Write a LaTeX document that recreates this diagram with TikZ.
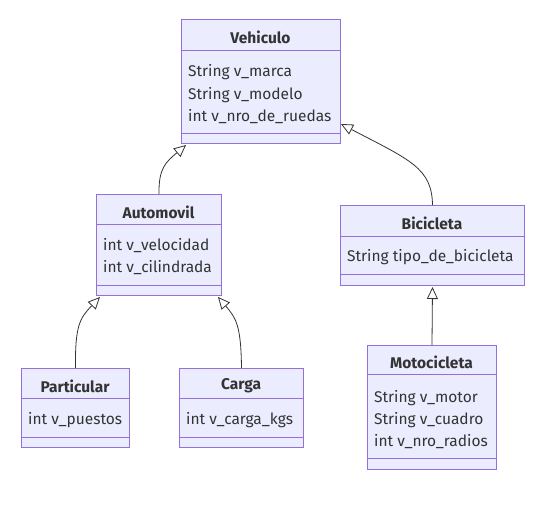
\documentclass[tikz,border=0pt]{standalone}
\usepackage{fontspec}
\setmainfont{Fira Sans}
\usetikzlibrary{arrows.meta}
\definecolor{clsfill}{HTML}{ECECFF}
\definecolor{clsdraw}{HTML}{9370DB}
\definecolor{txt}{HTML}{333333}
\begin{document}
\begin{tikzpicture}[x=1pt,y=-1pt,
  cls/.style={draw=clsdraw, fill=clsfill, line width=1pt, inner sep=0pt, anchor=north west},
  divider/.style={draw=clsdraw, line width=1pt},
  ttl/.style={font=\fontsize{15.5}{17}\selectfont\bfseries, text=txt, inner sep=0pt},
  attr/.style={font=\fontsize{15.5}{17}\selectfont, text=txt, inner sep=0pt, anchor=west},
  inh/.style={draw=txt, line width=0.8pt, -{Triangle[open, length=12pt, width=11pt, fill=white]}}]
\useasboundingbox (0,0) rectangle (547,509);

% Vehiculo
\node[cls, minimum width=159pt, minimum height=124pt] (veh) at (181,19) {};
\draw[divider] (181,50) -- (340,50);
\draw[divider] (181,133) -- (340,133);
\node[ttl] (vehT) at (260.5,37) {Vehiculo};
\node[attr] (veh1) at (188,72) {String v\_marca};
\node[attr] (veh2) at (188,95) {String v\_modelo};
\node[attr] (veh3) at (188,117) {int v\_nro\_de\_ruedas};

% Automovil
\node[cls, minimum width=125pt, minimum height=101pt] (auto) at (96,194) {};
\draw[divider] (96,224) -- (221,224);
\draw[divider] (96,285) -- (221,285);
\node[ttl] (autoT) at (158.5,212) {Automovil};
\node[attr] (auto1) at (103,246) {int v\_velocidad};
\node[attr] (auto2) at (103,268) {int v\_cilindrada};

% Bicicleta
\node[cls, minimum width=184pt, minimum height=80pt] (bic) at (340,205) {};
\draw[divider] (340,236) -- (524,236);
\draw[divider] (340,274) -- (524,274);
\node[ttl] (bicT) at (432,223) {Bicicleta};
\node[attr] (bic1) at (347,257) {String tipo\_de\_bicicleta};

% Particular
\node[cls, minimum width=108pt, minimum height=79pt] (par) at (21,368) {};
\draw[divider] (21,398) -- (129,398);
\draw[divider] (21,437) -- (129,437);
\node[ttl] (parT) at (75,386) {Particular};
\node[attr] (par1) at (28,420) {int v\_puestos};

% Carga
\node[cls, minimum width=124pt, minimum height=79pt] (car) at (179,368) {};
\draw[divider] (179,398) -- (303,398);
\draw[divider] (179,437) -- (303,437);
\node[ttl] (carT) at (241,386) {Carga};
\node[attr] (car1) at (186,420) {int v\_carga\_kgs};

% Motocicleta
\node[cls, minimum width=129pt, minimum height=124pt] (mot) at (367,345) {};
\draw[divider] (367,374) -- (496,374);
\draw[divider] (367,458) -- (496,458);
\node[ttl] (motT) at (431.5,362) {Motocicleta};
\node[attr] (mot1) at (374,398) {String v\_motor};
\node[attr] (mot2) at (374,420) {String v\_cuadro};
\node[attr] (mot3) at (374,442) {int v\_nro\_radios};

% Inheritance edges
\draw[inh] (auto.north) .. controls (158.5,168) and (166,162) .. ([xshift=5pt,yshift=-1pt]veh.south west);
\draw[inh] (bic.north) .. controls (432,168) and (410,160) .. ([yshift=20pt]veh.south east);
\draw[inh] (mot.north) -- ([yshift=-1pt]bic.south);
\draw[inh] (par.north) .. controls (75,325) and (80,318) .. ([xshift=4pt,yshift=-1pt]auto.south west);
\draw[inh] (car.north) .. controls (241,325) and (236,318) .. ([xshift=-4pt,yshift=-1pt]auto.south east);
\end{tikzpicture}
\end{document}
